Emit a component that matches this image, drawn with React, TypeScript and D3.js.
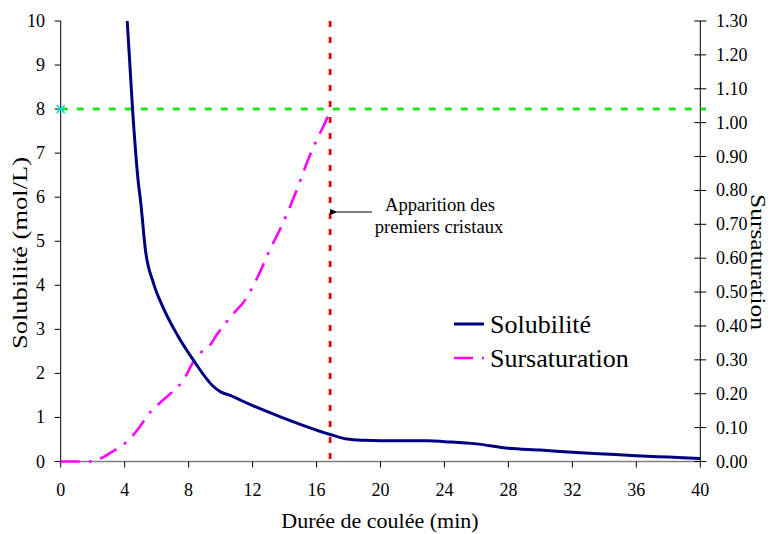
import React from "react";
import * as d3 from "d3";

const solTime = [4.16, 4.5, 4.85, 5.0, 5.3, 5.8, 6.4, 7.25, 8.3, 9.5, 10.0, 10.6, 11.8, 13.7, 16.8, 17.9, 19, 20, 22, 23, 24, 26, 28, 30, 32, 34, 36, 38, 40];
const solValue = [10, 7.96, 6.35, 5.9, 4.8, 4.05, 3.5, 2.9, 2.3, 1.72, 1.58, 1.5, 1.3, 1.02, 0.62, 0.51, 0.48, 0.47, 0.47, 0.47, 0.45, 0.4, 0.3, 0.26, 0.21, 0.17, 0.13, 0.1, 0.07];

const sursTime = [0, 1, 2, 2.66, 3.39, 4.0, 4.96, 5.4, 6.3, 7.66, 8.5, 9.33, 9.75, 11.0, 11.4, 12.2, 12.46, 13.07, 13.7, 14.33, 15.0, 15.27, 16.1, 16.52, 16.87];
const sursValue = [0, 0, 0, 0.013, 0.034, 0.053, 0.103, 0.134, 0.177, 0.24, 0.31, 0.343, 0.373, 0.447, 0.468, 0.533, 0.559, 0.624, 0.684, 0.751, 0.831, 0.866, 0.958, 0.998, 1.037];

const xTicks = [0, 4, 8, 12, 16, 20, 24, 28, 32, 36, 40];
const yLeftTicks = [0, 1, 2, 3, 4, 5, 6, 7, 8, 9, 10];
const yRightTicks = [0, 0.1, 0.2, 0.3, 0.4, 0.5, 0.6, 0.7, 0.8, 0.9, 1.0, 1.1, 1.2, 1.3];

const firstCrystalTime = 16.85;
const thresholdLevel = 8;

const FONT = '"Liberation Serif", "DejaVu Serif", "Times New Roman", serif';
const tStyle = { fontFamily: FONT, fill: "#000" };

export default function App() {
  const L = 60.7, R = 700.3, T = 21, B = 461.5;
  const x = d3.scaleLinear().domain([0, 40]).range([L, R]);
  const yL = d3.scaleLinear().domain([0, 10]).range([B, T]);
  const yR = d3.scaleLinear().domain([0, 1.3]).range([B, T]);

  const solLine = d3
    .line<number>()
    .x((_, i) => x(solTime[i]))
    .y((d) => yL(d))
    .curve(d3.curveMonotoneX)(solValue) as string;

  const sursLine = d3
    .line<number>()
    .x((_, i) => x(sursTime[i]))
    .y((d) => yR(d))
    .curve(d3.curveMonotoneX)(sursValue) as string;

  const gy = yL(thresholdLevel);
  const rx = x(firstCrystalTime);

  return (
    <svg
      width={770}
      height={534}
      style={{ position: "absolute", left: 0, top: 0, background: "#fff" }}
    >
      {/* x axis */}
      <line x1={L} x2={R} y1={B} y2={B} stroke="#808080" strokeWidth={1.5} />
      {xTicks.map((t) => (
        <g key={"x" + t}>
          <line x1={x(t)} x2={x(t)} y1={B} y2={B + 6} stroke="#000" strokeWidth={1} />
          <text x={x(t)} y={496} fontSize={18} textAnchor="middle" style={tStyle}>
            {t}
          </text>
        </g>
      ))}
      {/* left axis */}
      <line x1={L} x2={L} y1={T} y2={B} stroke="#000" strokeWidth={1} />
      {yLeftTicks.map((t) => (
        <g key={"yl" + t}>
          <line x1={L - 6} x2={L} y1={yL(t)} y2={yL(t)} stroke="#000" strokeWidth={1} />
          <text x={45} y={yL(t) + 6} fontSize={18} textAnchor="end" style={tStyle}>
            {t}
          </text>
        </g>
      ))}
      {/* right axis */}
      <line x1={R} x2={R} y1={T} y2={B} stroke="#000" strokeWidth={1} />
      {yRightTicks.map((t) => (
        <g key={"yr" + t}>
          <line x1={R - 6} x2={R + 6} y1={yR(t)} y2={yR(t)} stroke="#000" strokeWidth={1} />
          <text x={716} y={yR(t) + 6} fontSize={18} textAnchor="start" style={tStyle}>
            {t.toFixed(2)}
          </text>
        </g>
      ))}

      {/* green threshold */}
      <line x1={L} x2={706} y1={gy} y2={gy} stroke="#22dd22" strokeWidth={3} strokeDasharray="7,9" />
      <g stroke="#00e0e0" strokeWidth={1.5}>
        <line x1={L - 4} x2={L + 4} y1={gy - 4} y2={gy + 4} />
        <line x1={L - 4} x2={L + 4} y1={gy + 4} y2={gy - 4} />
      </g>

      {/* curves */}
      <path d={sursLine} fill="none" stroke="#ff00ff" strokeWidth={2.6} strokeDasharray="19,9,3,9" />
      <path d={solLine} fill="none" stroke="#000080" strokeWidth={3} />

      {/* red vertical */}
      <line x1={rx} x2={rx} y1={T} y2={B} stroke="#ee0000" strokeWidth={2.8} strokeDasharray="6,10" />

      {/* annotation */}
      <defs>
        <marker id="arr" viewBox="0 0 10 10" refX={1} refY={5} markerWidth={8} markerHeight={8} orient="auto-start-reverse">
          <path d="M0,5 L10,1 L10,9 Z" fill="#000" />
        </marker>
      </defs>
      <line x1={372} x2={337} y1={212} y2={212} stroke="#000" strokeWidth={1} markerEnd="url(#arr)" />
      <text x={440} y={211} fontSize={18.6} textAnchor="middle" style={tStyle}>Apparition des</text>
      <text x={439} y={233} fontSize={18.6} textAnchor="middle" style={tStyle}>premiers cristaux</text>

      {/* legend */}
      <line x1={454} x2={484} y1={324} y2={324} stroke="#000080" strokeWidth={3} />
      <text x={490} y={333} fontSize={26} style={tStyle}>Solubilité</text>
      <line x1={454} x2={484} y1={358} y2={358} stroke="#ff00ff" strokeWidth={2.6} strokeDasharray="19,9,3,9" />
      <text x={490} y={367} fontSize={26} style={tStyle}>Sursaturation</text>

      {/* axis titles */}
      <text x={380} y={528} fontSize={22} textAnchor="middle" style={tStyle}>Durée de coulée (min)</text>
      <text
        transform="translate(27,253) rotate(-90)"
        fontSize={20}
        textAnchor="middle"
        textLength={192}
        lengthAdjust="spacingAndGlyphs"
        style={tStyle}
      >
        Solubilité (mol/L)
      </text>
      <text
        transform="translate(751,262) rotate(90)"
        fontSize={20}
        textAnchor="middle"
        textLength={136}
        lengthAdjust="spacingAndGlyphs"
        style={tStyle}
      >
        Sursaturation
      </text>
    </svg>
  );
}
